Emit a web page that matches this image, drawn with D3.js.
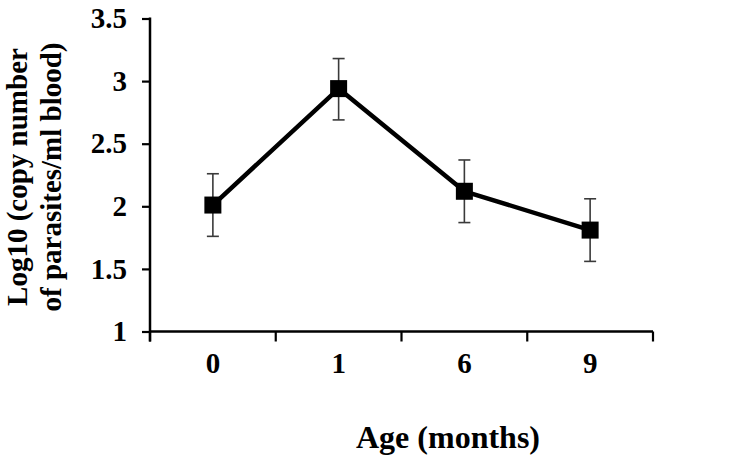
<!DOCTYPE html>
<html>
<head>
<meta charset="utf-8">
<script src="https://cdn.jsdelivr.net/npm/d3@7"></script>
<style>
  body { margin: 0; background: #fff; }
  text { font-family: "Liberation Serif", "Times New Roman", serif; font-weight: bold; fill: #000; }
</style>
</head>
<body>
<div id="canvas"></div>
<script>
// data
const ages = ["0", "1", "6", "9"];
const meanLog = [2.01, 2.94, 2.12, 1.81];
const errTop = [2.26, 3.18, 2.37, 2.06];
const errBottom = [1.76, 2.69, 1.87, 1.56];
const yTicks = [1, 1.5, 2, 2.5, 3, 3.5];

const width = 754, height = 464;
const plot = { left: 150, right: 653, top: 18.5, bottom: 331.5 };

const svg = d3.select("#canvas").append("svg")
    .attr("width", width)
    .attr("height", height);

const x = d3.scaleBand()
    .domain(ages)
    .range([plot.left, plot.right])
    .padding(0);

const y = d3.scaleLinear()
    .domain([1, 3.5])
    .range([plot.bottom, plot.top]);

// y axis
const yAxis = svg.append("g")
    .attr("transform", "translate(" + plot.left + ",0)")
    .call(d3.axisLeft(y)
        .tickValues(yTicks)
        .tickFormat(d => d)
        .tickSize(8)
        .tickSizeOuter(0)
        .tickPadding(15));
yAxis.select(".domain").remove();
yAxis.selectAll("line").attr("stroke", "#000").attr("stroke-width", 2.2);
yAxis.selectAll("text").attr("font-size", "29px").attr("font-family", null);

// y axis line (runs down to the tick under the x axis)
svg.append("line")
    .attr("x1", plot.left).attr("x2", plot.left)
    .attr("y1", y(3.5) - 1).attr("y2", plot.bottom + 10)
    .attr("stroke", "#000").attr("stroke-width", 2.5);

// x axis: labels in the middle of each band, ticks on the band edges
const xAxis = svg.append("g")
    .attr("transform", "translate(0," + plot.bottom + ")")
    .call(d3.axisBottom(x).tickSize(0).tickPadding(21));
xAxis.select(".domain").remove();
xAxis.selectAll("text").attr("font-size", "29px").attr("font-family", null);

svg.append("line")
    .attr("x1", plot.left).attr("x2", plot.right)
    .attr("y1", plot.bottom).attr("y2", plot.bottom)
    .attr("stroke", "#000").attr("stroke-width", 2.5);

const edges = [x(ages[0])].concat(ages.map(a => x(a) + x.bandwidth()));
svg.append("g").selectAll("line")
    .data(edges)
    .enter().append("line")
    .attr("x1", d => d).attr("x2", d => d)
    .attr("y1", plot.bottom).attr("y2", plot.bottom + 10)
    .attr("stroke", "#000").attr("stroke-width", 2.2);

// titles
svg.append("text")
    .attr("x", 448)
    .attr("y", 448)
    .attr("text-anchor", "middle")
    .attr("font-size", "32px")
    .text("Age (months)");

const yTitle = svg.append("text")
    .attr("transform", "translate(27,177) rotate(-90)")
    .attr("text-anchor", "middle")
    .attr("font-size", "29px");
yTitle.append("tspan").attr("x", 0).attr("dy", 0).text("Log10 (copy number");
yTitle.append("tspan").attr("x", 0).attr("dy", 34).text("of parasites/ml blood)");

const cx = d => x(d) + x.bandwidth() / 2;

// error bars
const err = svg.append("g")
    .selectAll("g")
    .data(ages)
    .enter().append("g")
    .attr("stroke", "#3a3a3a")
    .attr("stroke-width", 1.6);
err.append("line")
    .attr("x1", cx).attr("x2", cx)
    .attr("y1", (d, i) => y(errTop[i]))
    .attr("y2", (d, i) => y(errBottom[i]));
err.append("line")
    .attr("x1", d => cx(d) - 6).attr("x2", d => cx(d) + 6)
    .attr("y1", (d, i) => y(errTop[i]))
    .attr("y2", (d, i) => y(errTop[i]));
err.append("line")
    .attr("x1", d => cx(d) - 6).attr("x2", d => cx(d) + 6)
    .attr("y1", (d, i) => y(errBottom[i]))
    .attr("y2", (d, i) => y(errBottom[i]));

// mean line
const line = d3.line()
    .x(d => cx(d))
    .y((d, i) => y(meanLog[i]));
svg.append("path")
    .attr("d", line(ages))
    .attr("fill", "none")
    .attr("stroke", "#000")
    .attr("stroke-width", 4.5)
    .attr("stroke-linejoin", "round");

// square markers
svg.append("g").selectAll("rect")
    .data(ages)
    .enter().append("rect")
    .attr("x", d => cx(d) - 8.5)
    .attr("y", (d, i) => y(meanLog[i]) - 8.5)
    .attr("width", 17)
    .attr("height", 17)
    .attr("fill", "#000");
</script>
</body>
</html>
